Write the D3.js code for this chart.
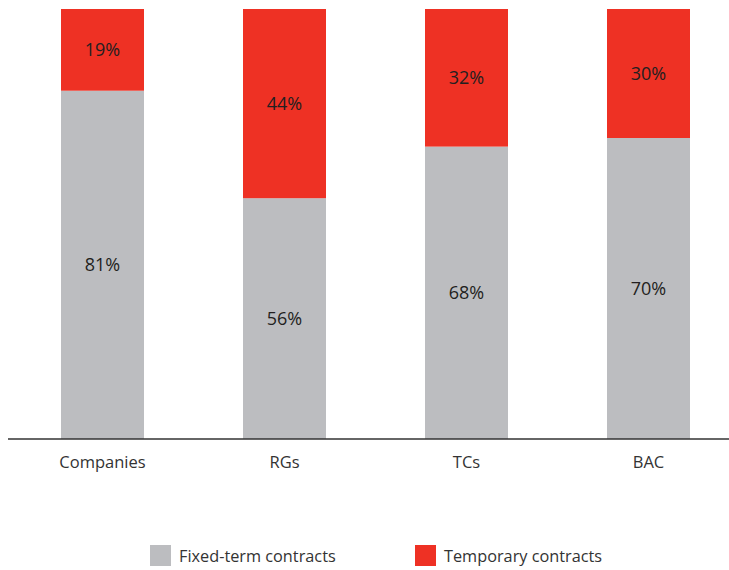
<!DOCTYPE html>
<html>
<head>
<meta charset="utf-8">
<script src="https://cdn.jsdelivr.net/npm/d3@7"></script>
<style>
  body { margin: 0; background: #fff; }
  text { font-family: "Open Sans", "Noto Sans", sans-serif; }
</style>
</head>
<body>
<div id="chart"></div>
<script>
const categories = ['Companies', 'RGs', 'TCs', 'BAC'];
const fixedTerm = [81, 56, 68, 70];
const temporary = [19, 44, 32, 30];
const seriesNames = ['Fixed-term contracts', 'Temporary contracts'];
const seriesColors = ['#bcbdc0', '#ee3124'];

const width = 729, height = 570;
const svg = d3.select('#chart').append('svg')
    .attr('width', width)
    .attr('height', height);

const x = d3.scaleBand()
    .domain(categories)
    .range([11.5, 739.5])
    .paddingInner(0.544)
    .paddingOuter(0.272);

const y = d3.scaleLinear()
    .domain([0, 100])
    .range([439, 9]);

const rows = categories.map((c, i) => ({ cat: c, fixed: fixedTerm[i], temp: temporary[i] }));
const stacked = d3.stack().keys(['fixed', 'temp'])(rows);

const layers = svg.selectAll('g.layer')
    .data(stacked)
    .enter().append('g')
    .attr('class', 'layer')
    .attr('fill', (d, i) => seriesColors[i]);

layers.selectAll('rect')
    .data(d => d)
    .enter().append('rect')
    .attr('x', d => x(d.data.cat))
    .attr('width', x.bandwidth())
    .attr('y', d => y(d[1]))
    .attr('height', d => y(d[0]) - y(d[1]));

layers.selectAll('text')
    .data(d => d)
    .enter().append('text')
    .attr('x', d => x(d.data.cat) + x.bandwidth() / 2)
    .attr('y', d => (y(d[0]) + y(d[1])) / 2)
    .attr('dy', '0.35em')
    .attr('text-anchor', 'middle')
    .attr('fill', '#231f20')
    .style('font-size', '18px')
    .text(d => (d[1] - d[0]) + '%');

// axis
const axis = svg.append('g')
    .attr('transform', `translate(0,${y(0)})`)
    .call(d3.axisBottom(x).tickSize(0).tickPadding(17));
axis.select('.domain')
    .attr('d', 'M8,0H729')
    .attr('stroke', '#333')
    .attr('stroke-width', 1.3);
axis.selectAll('.tick text')
    .style('font-size', '16.5px')
    .attr('fill', '#333');

// legend
const legendX = [150, 415];
const legend = svg.selectAll('g.legend')
    .data(seriesNames)
    .enter().append('g')
    .attr('class', 'legend')
    .attr('transform', (d, i) => `translate(${legendX[i]},545)`);
legend.append('rect')
    .attr('width', 21)
    .attr('height', 21)
    .attr('fill', (d, i) => seriesColors[i]);
legend.append('text')
    .attr('x', 29)
    .attr('y', 11)
    .attr('dy', '0.35em')
    .attr('fill', '#333')
    .style('font-size', '16.3px')
    .text(d => d);
</script>
</body>
</html>
